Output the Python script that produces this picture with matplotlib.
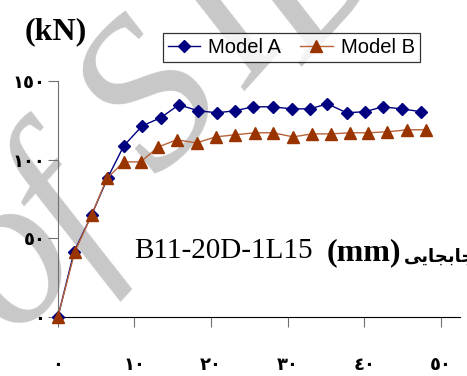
import matplotlib
matplotlib.use('Agg')
import matplotlib.pyplot as plt

# displacement (mm) and load (kN)
disp_a = [0, 2.1, 4.4, 6.5, 8.6, 11.0, 13.4, 15.8, 18.3, 20.8, 23.1,
          25.5, 28.1, 30.5, 32.9, 35.2, 37.7, 40.1, 42.4, 44.9, 47.4]
load_a = [0, 41.3, 64.8, 88.4, 108.7, 121.4, 126.5, 134.8, 131.0, 129.7, 131.0,
          133.5, 133.5, 132.2, 132.2, 135.4, 129.7, 130.4, 133.5, 132.2, 130.4]
disp_b = [0, 2.2, 4.4, 6.4, 8.6, 10.8, 13.1, 15.5, 18.1, 20.6, 23.1,
          25.7, 28.1, 30.7, 33.2, 35.6, 38.1, 40.5, 43.0, 45.6, 48.0]
load_b = [0, 41.3, 64.8, 88.0, 98.5, 98.5, 108.0, 112.5, 110.6, 114.4, 115.7,
          117.0, 117.0, 114.4, 116.3, 116.3, 117.0, 117.0, 117.6, 118.9, 118.9]

xticks = [0, 10, 20, 30, 40, 50]
xtick_labels = ['٠', '١٠', '٢٠', '٣٠', '٤٠', '٥٠']
yticks = [0, 50, 100, 150]
ytick_labels = ['٠', '٥٠', '١٠٠', '١٥٠']

# watermark letters and where their centres sit (pixels from top-left)
wm_chars = ['o', 'f', 'S', 'I', 'D']
wm_px = [(12, 262), (66, 214), (156, 104), (232, 30), (318, -25)]

fig = plt.figure(figsize=(4.67, 3.76), dpi=100)
ax = fig.add_axes([0.124, 0.157, 0.861, 0.628])

for ch, (px, py) in zip(wm_chars, wm_px):
    fig.text(px / 467, 1 - py / 376, ch, fontsize=155, family='Liberation Serif',
             style='italic', color='#c8c8c8', rotation=48,
             ha='center', va='center', zorder=-1)
ax.set_facecolor('none')

ax.plot(disp_a, load_a, '-', color='#000080', lw=1.0, marker='D', ms=6.5,
        mfc='#000080', mec='#000080', label='Model A', clip_on=False, zorder=3)
ax.plot(disp_b, load_b, '-', color='#b8623a', lw=1.0, marker='^', ms=8,
        mfc='#993300', mec='#993300', label='Model B', clip_on=False, zorder=4)

ax.set_xlim(0, 52.5)
ax.set_ylim(0, 150)
ax.set_xticks(xticks)
ax.set_xticklabels(xtick_labels, fontsize=13, fontweight='bold', family='DejaVu Sans')
ax.set_yticks(yticks)
ax.set_yticklabels(ytick_labels, fontsize=13, fontweight='bold', family='DejaVu Sans')
ax.tick_params(axis='x', direction='out', length=7, pad=21, color='#707070')
ax.tick_params(axis='y', direction='out', length=7, pad=2, color='#707070')

for s in ['top', 'right']:
    ax.spines[s].set_visible(False)
ax.spines['left'].set_color('#707070')
ax.spines['bottom'].set_color('black')

leg = fig.legend(loc='upper left', bbox_to_anchor=(163 / 467, 1 - 33 / 376),
                 ncol=2, frameon=True, fancybox=False, shadow=False,
                 handlelength=1.6, handletextpad=0.4, columnspacing=0.95,
                 borderpad=0.25, borderaxespad=0,
                 prop={'family': 'Liberation Sans', 'size': 14.5})
leg.get_frame().set_edgecolor('black')
leg.get_frame().set_linewidth(0.9)

fig.text(56 / 467, 1 - 32 / 376, '(kN)', fontsize=23, fontweight='bold',
         family='Liberation Serif', ha='center', va='center')
fig.text(134 / 467, 1 - 258 / 376, 'B11-20D-1L15', fontsize=21,
         family='Liberation Serif', ha='left', va='baseline')
fig.text(327 / 467, 1 - 260 / 376, '(mm)', fontsize=23, fontweight='bold',
         family='Liberation Serif', ha='left', va='baseline')
# جابجایی written with presentation forms in visual order
fig.text(404 / 467, 1 - 262 / 376, '\ufef0\ufef3\ufe8e\ufea0\ufe91\ufe8e\ufe9f',
         fontsize=13, fontweight='bold', family='DejaVu Sans', ha='left', va='baseline')

fig.savefig('out.png', dpi=100)
